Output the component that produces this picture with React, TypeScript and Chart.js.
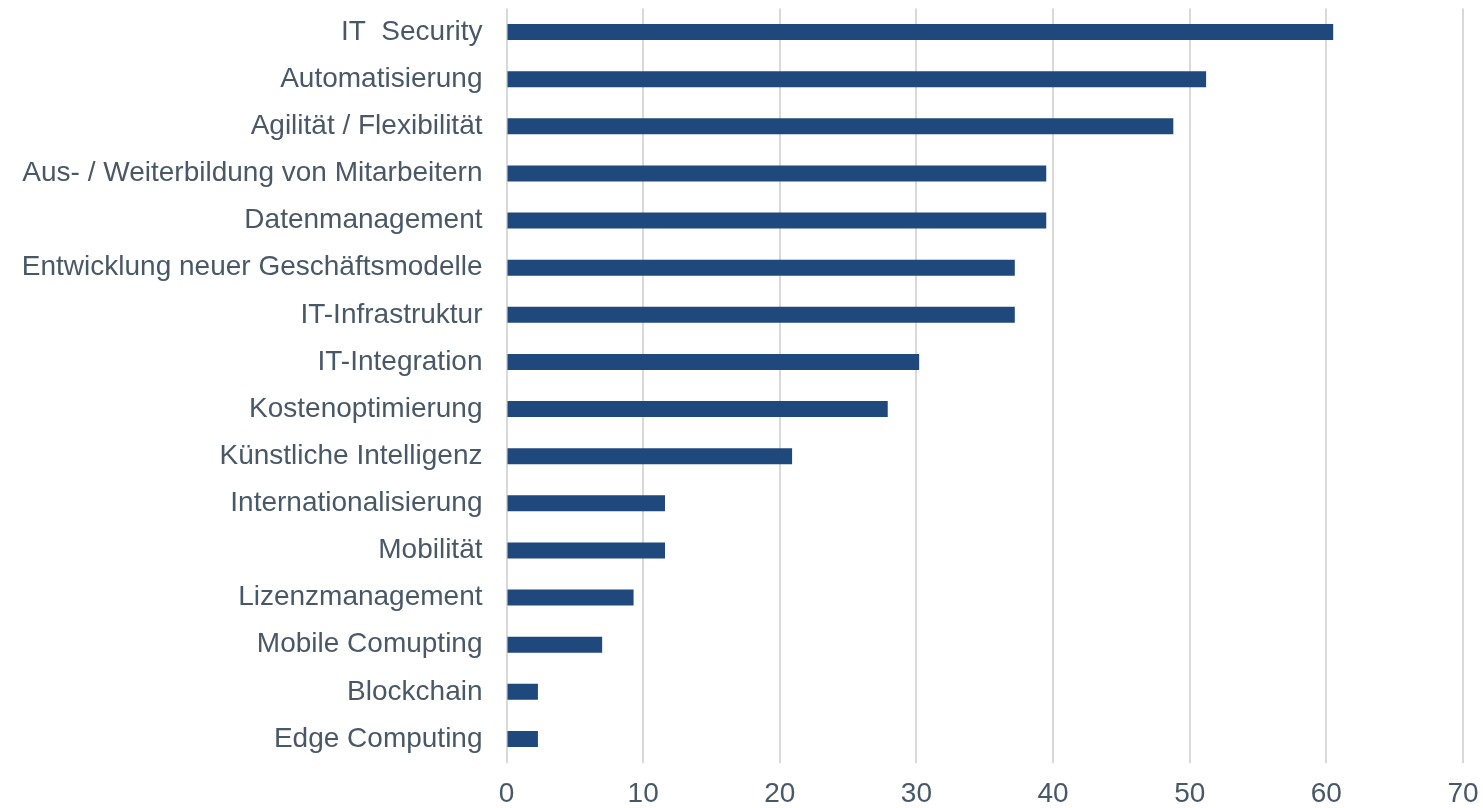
import React, { useEffect, useRef } from "react";
import { Chart, registerables } from "chart.js";

Chart.register(...registerables);

const categories = [
  "IT  Security",
  "Automatisierung",
  "Agilität / Flexibilität",
  "Aus- / Weiterbildung von Mitarbeitern",
  "Datenmanagement",
  "Entwicklung neuer Geschäftsmodelle",
  "IT-Infrastruktur",
  "IT-Integration",
  "Kostenoptimierung",
  "Künstliche Intelligenz",
  "Internationalisierung",
  "Mobilität",
  "Lizenzmanagement",
  "Mobile Comupting",
  "Blockchain",
  "Edge Computing",
];

const values = [60.5, 51.2, 48.8, 39.5, 39.5, 37.2, 37.2, 30.2, 27.9, 20.9, 11.6, 11.6, 9.3, 7.0, 2.3, 2.3];

const xTicks = [0, 10, 20, 30, 40, 50, 60, 70];

export default function App() {
  const ref = useRef<HTMLCanvasElement | null>(null);

  useEffect(() => {
    document.body.style.margin = "0";
    if (!ref.current) return;
    const textColor = "#495867";
    const chart = new Chart(ref.current, {
      type: "bar",
      data: {
        labels: categories,
        datasets: [
          {
            data: values,
            backgroundColor: "#1F497D",
            borderWidth: 0,
            categoryPercentage: 1,
            barPercentage: 0.34,
          },
        ],
      },
      options: {
        indexAxis: "y",
        animation: false,
        responsive: false,
        maintainAspectRatio: false,
        layout: { padding: { top: 8.5, right: 20, left: 0, bottom: 0 } },
        plugins: {
          legend: { display: false },
          tooltip: { enabled: false },
        },
        scales: {
          x: {
            min: xTicks[0],
            max: xTicks[xTicks.length - 1],
            afterBuildTicks: (scale: any) => {
              scale.ticks = xTicks.map((v) => ({ value: v }));
            },
            grid: {
              color: "#D9D9D9",
              lineWidth: 2,
              drawTicks: false,
            },
            border: { display: false },
            ticks: {
              color: textColor,
              font: { family: "'Liberation Sans', Arial, sans-serif", size: 28 },
              padding: 15,
              maxRotation: 0,
            },
            afterFit: (scale: any) => {
              scale.height = 45.5;
              scale.paddingLeft = 0;
              scale.paddingRight = 0;
            },
          },
          y: {
            grid: { display: false, drawTicks: false },
            border: { display: false },
            ticks: {
              color: textColor,
              font: { family: "'Liberation Sans', Arial, sans-serif", size: 28 },
              padding: 24,
              autoSkip: false,
            },
            afterFit: (scale: any) => {
              scale.width = 506.5;
              scale.paddingTop = 0;
              scale.paddingBottom = 0;
            },
          },
        },
      },
    });
    return () => chart.destroy();
  }, []);

  return (
    <div style={{ position: "absolute", left: 0, top: 0, width: 1483, height: 808 }}>
      <canvas ref={ref} width={1483} height={808} style={{ width: 1483, height: 808 }} />
    </div>
  );
}
